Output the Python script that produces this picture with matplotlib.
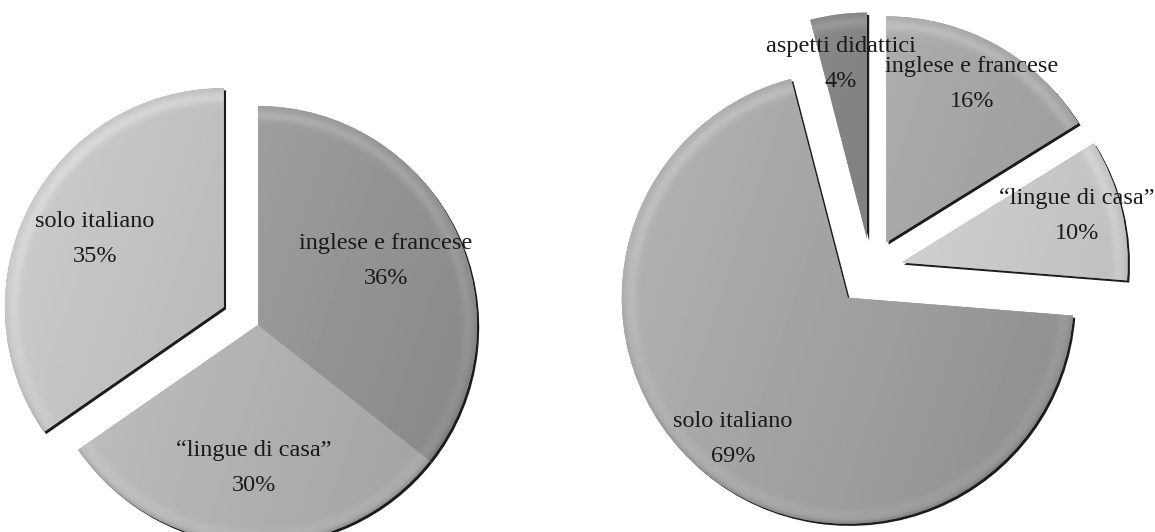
import numpy as np
import matplotlib.pyplot as plt
from matplotlib.patches import Wedge

# data
left_labels = ['inglese e francese', '\u201clingue di casa\u201d', 'solo italiano']
left_values = [36, 30, 35]
right_labels = ['inglese e francese', '\u201clingue di casa\u201d', 'solo italiano', 'aspetti didattici']
right_values = [16, 10, 69, 4]

W, H = 1155, 532


def img_xy(x, y):
    """image pixel (top-left origin) -> data coords"""
    return x, H - y


def shade_wedge(ax, w, base, tilt=0.06, rim=0.07):
    """fill a pie wedge with a soft grey gradient and a drop shadow"""
    cx, cy = w.center
    r = w.r
    sh = Wedge((cx + 2.2, cy - 2.2), r, w.theta1, w.theta2, facecolor='#1c1c1c',
               edgecolor='none', zorder=1)
    ax.add_patch(sh)
    w.set_zorder(2)

    x0, x1 = cx - r - 2, cx + r + 2
    y0, y1 = cy - r - 2, cy + r + 2
    xs = np.linspace(x0, x1, 300)
    ys = np.linspace(y1, y0, 300)
    X, Y = np.meshgrid(xs, ys)
    dx, dy = (X - cx) / r, (Y - cy) / r
    t = np.hypot(dx, dy)
    val = base - tilt * dx + 0.02 * dy
    # bevel highlight near the rim, darker right at the edge
    val += rim * np.exp(-((t - 0.96) / 0.025) ** 2) * (0.4 + 0.6 * np.clip(dy + 0.3, 0, 1))
    val -= 0.08 * np.clip((t - 0.985) / 0.015, 0, 1) * np.clip(-dy + 0.2, 0, 1)
    val = np.clip(val, 0, 1)
    im = ax.imshow(val, extent=(x0, x1, y0, y1), cmap='gray', vmin=0, vmax=1,
                   aspect='auto', interpolation='bilinear', zorder=3)
    im.set_clip_path(w)


def draw_pie(ax, values, labels, center, radius, explode, bases, label_pos):
    # pie() takes explode as an absolute offset, so scale by radius
    wedges, _ = ax.pie(values, radius=radius, center=img_xy(*center),
                       explode=[e * radius for e in explode],
                       startangle=90, counterclock=False, colors=['#999999'] * len(values),
                       wedgeprops=dict(linewidth=0), normalize=True)
    for w, b in zip(wedges, bases):
        shade_wedge(ax, w, b)
    for lab, v, (x, y) in zip(labels, values, label_pos):
        ax.text(*img_xy(x, y), f'{lab}\n{v}%', ha='center', va='center',
                fontsize=17.5, family='Liberation Serif', color='#1a1a1a',
                linespacing=1.85, zorder=5)


fig = plt.figure(figsize=(W / 100, H / 100), dpi=100)
ax = fig.add_axes([0, 0, 1, 1])

draw_pie(ax, left_values, left_labels, center=(258, 325), radius=219,
         explode=[0, 0, 0.176],
         bases=[0.60, 0.70, 0.73],
         label_pos=[(386, 261), (254, 468), (95, 239)])

draw_pie(ax, right_values, right_labels, center=(871, 270), radius=226,
         explode=[0.14, 0.14, 0.16, 0.14],
         bases=[0.66, 0.81, 0.63, 0.50],
         label_pos=[(972, 84), (1077, 216), (733, 439), (841, 64)])

ax.set_xlim(0, W)
ax.set_ylim(0, H)
ax.set_aspect('auto')
ax.axis('off')

fig.savefig('out.png', dpi=100, facecolor='white')
